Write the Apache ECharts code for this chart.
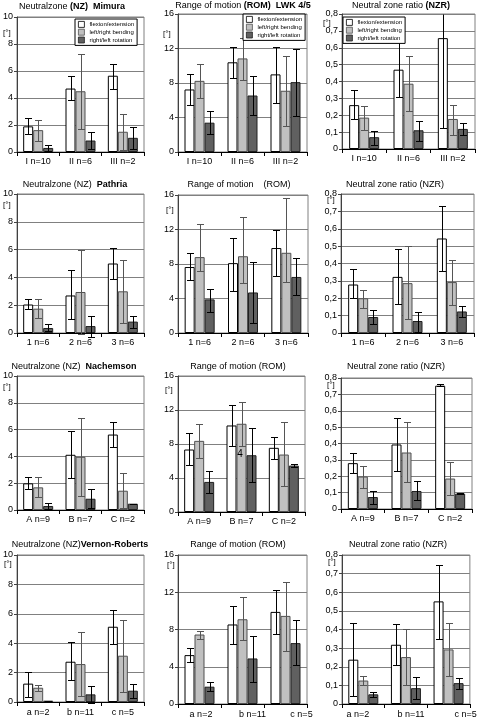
<!DOCTYPE html>
<html><head><meta charset="utf-8">
<script src="https://cdn.jsdelivr.net/npm/echarts@6/dist/echarts.min.js"></script>
<style>html,body{margin:0;padding:0;background:#fff}#c{width:479px;height:719px}</style>
</head><body><div id="c"></div><script>
// ---------- DATA ----------
const seriesNames = ['flexion/extension', 'left/right bending', 'right/left rotation'];
const catMimura = ['I n=10', 'II n=6', 'III n=2'];
const catPathria = ['1 n=6', '2 n=6', '3 n=6'];
const catNachemson = ['A n=9', 'B n=7', 'C n=2'];
const catVernon = ['a n=2', 'b n=11', 'c n=5'];

const nzTicks = [0, 2, 4, 6, 8, 10];
const romTicks = [0, 4, 8, 12, 16];
const nzrTicks = [0, 0.1, 0.2, 0.3, 0.4, 0.5, 0.6, 0.7, 0.8];

// each: [flexion, bending, rotation] x [group1, group2, group3]
const nzMimuraMean = [[1.9, 4.7, 5.65], [1.62, 4.5, 1.5], [0.3, 0.85, 1.05]];
const nzMimuraHi   = [[2.5, 5.6, 6.55], [2.35, 7.25, 2.8], [0.5, 1.5, 1.85]];
const nzMimuraLo   = [[1.35, 3.85, 4.7], [0.85, 1.7, 0.15], [0.1, 0.2, 0.25]];

const romMimuraMean = [[7.25, 10.4, 9.0], [8.25, 10.85, 7.1], [3.4, 6.55, 8.1]];
const romMimuraHi   = [[9.05, 12.2, 12.2], [10.2, 13.2, 11.15], [4.75, 8.8, 11.9]];
const romMimuraLo   = [[5.45, 8.55, 5.65], [6.25, 8.4, 3.05], [2.1, 4.3, 4.2]];

const nzrMimuraMean = [[0.26, 0.47, 0.657], [0.186, 0.387, 0.178], [0.07, 0.111, 0.119]];
const nzrMimuraHi   = [[0.347, 0.634, 1.19], [0.257, 0.549, 0.261], [0.109, 0.168, 0.156]];
const nzrMimuraLo   = [[0.18, 0.307, 0.127], [0.113, 0.224, 0.085], [0.022, 0.05, 0.081]];

const nzPathriaMean = [[2.05, 2.7, 5.0], [1.75, 2.95, 3.0], [0.36, 0.5, 0.82]];
const nzPathriaHi   = [[2.42, 4.5, 6.12], [2.42, 6.0, 5.25], [0.62, 1.25, 1.25]];
const nzPathriaLo   = [[1.7, 0.98, 3.9], [1.08, -0.1, 0.7], [0.14, -0.26, 0.38]];

const romPathriaMean = [[7.65, 8.1, 9.85], [8.8, 8.9, 9.3], [3.9, 4.7, 6.5]];
const romPathriaHi   = [[9.3, 11.0, 11.9], [12.6, 13.5, 15.7], [5.15, 8.2, 8.65]];
const romPathriaLo   = [[6.15, 4.9, 6.6], [7.2, 5.85, 5.95], [2.45, 1.2, 4.35]];

const nzrPathriaMean = [[0.279, 0.323, 0.544], [0.2, 0.287, 0.293], [0.092, 0.069, 0.124]];
const nzrPathriaHi   = [[0.366, 0.482, 0.731], [0.247, 0.5, 0.421], [0.13, 0.12, 0.157]];
const nzrPathriaLo   = [[0.203, 0.168, 0.358], [0.145, 0.078, 0.159], [0.052, 0.004, 0.092]];

const nzNachemsonMean = [[1.99, 4.12, 5.63], [1.69, 3.97, 1.44], [0.3, 0.84, 0.47]];
const nzNachemsonHi   = [[2.43, 5.86, 6.53], [2.43, 6.85, 2.78], [0.55, 1.59, 0.47]];
const nzNachemsonLo   = [[1.59, 2.38, 4.67], [0.97, 1.07, 0.12], [0.05, 0.17, 0.47]];

const romNachemsonMean = [[7.35, 10.18, 7.55], [8.37, 10.38, 6.76], [3.54, 6.68, 5.46]];
const romNachemsonHi   = [[9.28, 12.54, 8.77], [10.38, 12.97, 10.53], [4.87, 9.87, 5.7]];
const romNachemsonLo   = [[5.5, 7.78, 6.21], [6.41, 7.82, 3.07], [2.24, 3.54, 5.3]];

const nzrNachemsonMean = [[0.28, 0.394, 0.753], [0.198, 0.345, 0.186], [0.073, 0.11, 0.094]];
const nzrNachemsonHi   = [[0.345, 0.553, 0.761], [0.261, 0.531, 0.284], [0.112, 0.169, 0.097]];
const nzrNachemsonLo   = [[0.218, 0.233, 0.749], [0.129, 0.165, 0.088], [0.029, 0.053, 0.091]];

const nzVernonMean = [[1.25, 2.74, 5.12], [0.97, 2.58, 3.15], [0.09, 0.52, 0.77]];
const nzVernonHi   = [[2.04, 4.06, 6.28], [1.18, 4.76, 5.6], [0.09, 1.09, 1.25]];
const nzVernonLo   = [[0.34, 1.52, 3.97], [0.75, 0.43, 0.68], [0.09, -0.05, 0.29]];

const romVernonMean = [[5.25, 8.54, 9.89], [7.46, 9.1, 9.46], [1.86, 4.89, 6.54]];
const romVernonHi   = [[6.0, 10.57, 12.21], [7.82, 11.46, 13.07], [2.32, 7.29, 9.04]];
const romVernonLo   = [[4.46, 6.39, 7.5], [7.0, 6.82, 5.64], [1.43, 2.36, 4.14]];

const nzrVernonMean = [[0.238, 0.318, 0.551], [0.126, 0.252, 0.293], [0.052, 0.085, 0.112]];
const nzrVernonHi   = [[0.436, 0.427, 0.747], [0.148, 0.404, 0.436], [0.064, 0.144, 0.14]];
const nzrVernonLo   = [[0.041, 0.21, 0.35], [0.103, 0.103, 0.151], [0.037, 0.025, 0.08]];

// ---------- LAYOUT / STYLE ----------
const FONT = 'Arial, "Liberation Sans", Helvetica, sans-serif';
const barColors = ['#ffffff', '#c0c0c0', '#606060'];
const barBorders = ['#000000', '#505050', '#202020'];
const errColors = ['#000000', '#555555', '#000000'];

const kinds = {
  nz:  { ticks: nzTicks,  fmt: v => String(v) },
  rom: { ticks: romTicks, fmt: v => String(v) },
  nzr: { ticks: nzrTicks, fmt: v => v === 0 ? '0' : (Math.round(v * 10) / 10).toFixed(1).replace('.', ',') }
};

const panels = [
  { kind: 'nz',  cats: catMimura, mean: nzMimuraMean, hi: nzMimuraHi, lo: nzMimuraLo,
    grid: [15, 17, 129, 135], title: 'Neutralzone {b|(NZ)}  {b|Mimura}', tpos: [72, 7], unit: [3, 29],
    legend: [75, 19] },
  { kind: 'rom', cats: catMimura, mean: romMimuraMean, hi: romMimuraHi, lo: romMimuraLo,
    grid: [178, 14, 129, 138], title: 'Range of motion {b|(ROM)}  {b|LWK 4/5}', tpos: [243, 6], unit: [163, 30],
    legend: [243, 14] },
  { kind: 'nzr', cats: catMimura, mean: nzrMimuraMean, hi: nzrMimuraHi, lo: nzrMimuraLo,
    grid: [342, 14, 133, 135], title: 'Neutral zone ratio {b|(NZR)}', tpos: [401, 6], unit: [323, 19],
    legend: [343, 17] },
  { kind: 'nz',  cats: catPathria, mean: nzPathriaMean, hi: nzPathriaHi, lo: nzPathriaLo,
    grid: [14, 194, 130, 139], title: 'Neutralzone (NZ)  {b|Pathria}', tpos: [75, 185], unit: [3, 201] },
  { kind: 'rom', cats: catPathria, mean: romPathriaMean, hi: romPathriaHi, lo: romPathriaLo,
    grid: [178, 195, 130, 138], title: 'Range of motion    (ROM)', tpos: [239, 185], unit: [166, 206] },
  { kind: 'nzr', cats: catPathria, mean: nzrPathriaMean, hi: nzrPathriaHi, lo: nzrPathriaLo,
    grid: [341, 194, 133, 139], title: 'Neutral zone ratio (NZR)', tpos: [395, 185], unit: [327, 196] },
  { kind: 'nz',  cats: catNachemson, mean: nzNachemsonMean, hi: nzNachemsonHi, lo: nzNachemsonLo,
    grid: [15, 376, 129, 134], title: 'Neutralzone (NZ)  {b|Nachemson}', tpos: [74, 367], unit: [3, 383] },
  { kind: 'rom', cats: catNachemson, mean: romNachemsonMean, hi: romNachemsonHi, lo: romNachemsonLo,
    grid: [178, 376, 127, 136], title: 'Range of motion (ROM)', tpos: [238, 367], unit: [165, 386] },
  { kind: 'nzr', cats: catNachemson, mean: nzrNachemsonMean, hi: nzrNachemsonHi, lo: nzrNachemsonLo,
    grid: [341, 378, 131, 131], title: 'Neutral zone ratio (NZR)', tpos: [396, 367], unit: [327, 381] },
  { kind: 'nz',  cats: catVernon, mean: nzVernonMean, hi: nzVernonHi, lo: nzVernonLo,
    grid: [15, 555, 129, 147], title: 'Neutralzone (NZ){b|Vernon-Roberts}', tpos: [80, 545], unit: [4, 560] },
  { kind: 'rom', cats: catVernon, mean: romVernonMean, hi: romVernonHi, lo: romVernonLo,
    grid: [178, 555, 129, 149], title: 'Range of motion (ROM)', tpos: [238, 545], unit: [167, 561],
    shift: [1.5, 10, 16] },
  { kind: 'nzr', cats: catVernon, mean: nzrVernonMean, hi: nzrVernonHi, lo: nzrVernonLo,
    grid: [342, 555, 132, 150], title: 'Neutral zone ratio (NZR)', tpos: [398, 545], unit: [328, 558],
    shift: [-5.5, 5, 17] }
];

const BAR_W = 10;

function errRenderer(s, maxV, color) {
  return function (params, api) {
    const g = api.value(0), hi = api.value(1), lo = api.value(2);
    const cx = Math.round(api.coord([g, 0])[0] + (s - 1) * BAR_W) + 0.5;
    const top = Math.min(hi, maxV);
    const yT = Math.round(api.coord([g, top])[1]) + 0.5;
    const yB = Math.round(api.coord([g, lo])[1]) + 0.5;
    const half = 3.5;
    const st = { stroke: color, lineWidth: 1 };
    const children = [{ type: 'line', shape: { x1: cx, y1: yT, x2: cx, y2: yB }, style: st }];
    if (hi <= maxV) children.push({ type: 'line', shape: { x1: cx - half, y1: yT, x2: cx + half, y2: yT }, style: st });
    children.push({ type: 'line', shape: { x1: cx - half, y1: yB, x2: cx + half, y2: yB }, style: st });
    return { type: 'group', children };
  };
}

const grids = [], xAxes = [], yAxes = [], series = [], legends = [], graphics = [];

panels.forEach((p, i) => {
  const k = kinds[p.kind];
  const maxV = k.ticks[k.ticks.length - 1];
  grids.push({ left: p.grid[0], top: p.grid[1], width: p.grid[2], height: p.grid[3],
    show: true, borderColor: '#808080', borderWidth: 1, containLabel: false });
  const rich = {};
  const shift = p.shift || [0, 0, 0];
  shift.forEach((sh, j) => {
    rich['s' + j] = { fontSize: 9, fontFamily: FONT, color: '#000',
      padding: sh >= 0 ? [0, 0, 0, 2 * sh] : [0, -2 * sh, 0, 0] };
  });
  xAxes.push({ type: 'category', gridIndex: i, data: p.cats,
    axisLine: { lineStyle: { color: '#000', width: 1 } },
    axisTick: { show: true, length: 4, lineStyle: { color: '#000' } },
    axisLabel: { interval: 0, fontSize: 9, fontFamily: FONT, color: '#000', margin: p.grid[1] > 540 ? 6 : 5,
      formatter: (v, j) => '{s' + j + '|' + v + '}', rich },
    splitLine: { show: false } });
  yAxes.push({ type: 'value', gridIndex: i, min: k.ticks[0], max: maxV,
    interval: k.ticks[1] - k.ticks[0],
    axisLine: { show: true, lineStyle: { color: '#404040', width: 1 } },
    axisTick: { show: true, length: 3, lineStyle: { color: '#404040' } },
    axisLabel: { fontSize: 9, fontFamily: FONT, color: '#000', margin: 4, formatter: k.fmt },
    splitLine: { show: true, lineStyle: { color: '#808080', width: 1 } } });
  for (let s = 0; s < 3; s++) {
    series.push({ type: 'bar', name: seriesNames[s], xAxisIndex: i, yAxisIndex: i,
      data: p.mean[s], barWidth: BAR_W, barGap: '0%',
      itemStyle: { color: barColors[s], borderColor: barBorders[s], borderWidth: 1 },
      emphasis: { disabled: true }, animation: false, z: 2 });
  }
  for (let s = 0; s < 3; s++) {
    series.push({ type: 'custom', xAxisIndex: i, yAxisIndex: i,
      data: p.cats.map((c, g) => [g, p.hi[s][g], p.lo[s][g]]),
      encode: { x: 0, y: [1, 2] },
      renderItem: errRenderer(s, maxV, errColors[s]), animation: false, z: 5, silent: true });
  }
  if (p.legend) {
    legends.push({ left: p.legend[0], top: p.legend[1], orient: 'vertical',
      data: seriesNames, icon: 'rect', itemWidth: 6, itemHeight: 6, itemGap: 1, itemTextGap: 3,
      itemStyle: { borderWidth: 0.8 },
      padding: [2, 3, 2, 3], borderColor: '#000', borderWidth: 1, backgroundColor: '#fff',
      selectedMode: false, z: 10,
      textStyle: { fontSize: 6, fontFamily: FONT, color: '#000', lineHeight: 6 } });
  }
  graphics.push({ type: 'text', x: p.tpos[0], y: p.tpos[1], z: 20,
    style: { text: p.title, fontSize: 9, fontFamily: FONT, fill: '#000', align: 'center', verticalAlign: 'middle',
      rich: { b: { fontSize: 9, fontWeight: 'bold', fontFamily: FONT, fill: '#000' } } } });
  graphics.push({ type: 'text', x: p.unit[0], y: p.unit[1], z: 20,
    style: { text: '[°]', fontSize: 8, fontFamily: FONT, fill: '#000' } });
});

graphics.push({ type: 'text', x: 240, y: 454, z: 20,
  style: { text: '4', fontSize: 10, fontFamily: FONT, fill: '#000', align: 'center', verticalAlign: 'middle' } });

const chart = echarts.init(document.getElementById('c'), null, { renderer: 'canvas' });
chart.setOption({
  backgroundColor: '#fff',
  animation: false,
  grid: grids, xAxis: xAxes, yAxis: yAxes, series, legend: legends, graphic: graphics
});
</script></body></html>
